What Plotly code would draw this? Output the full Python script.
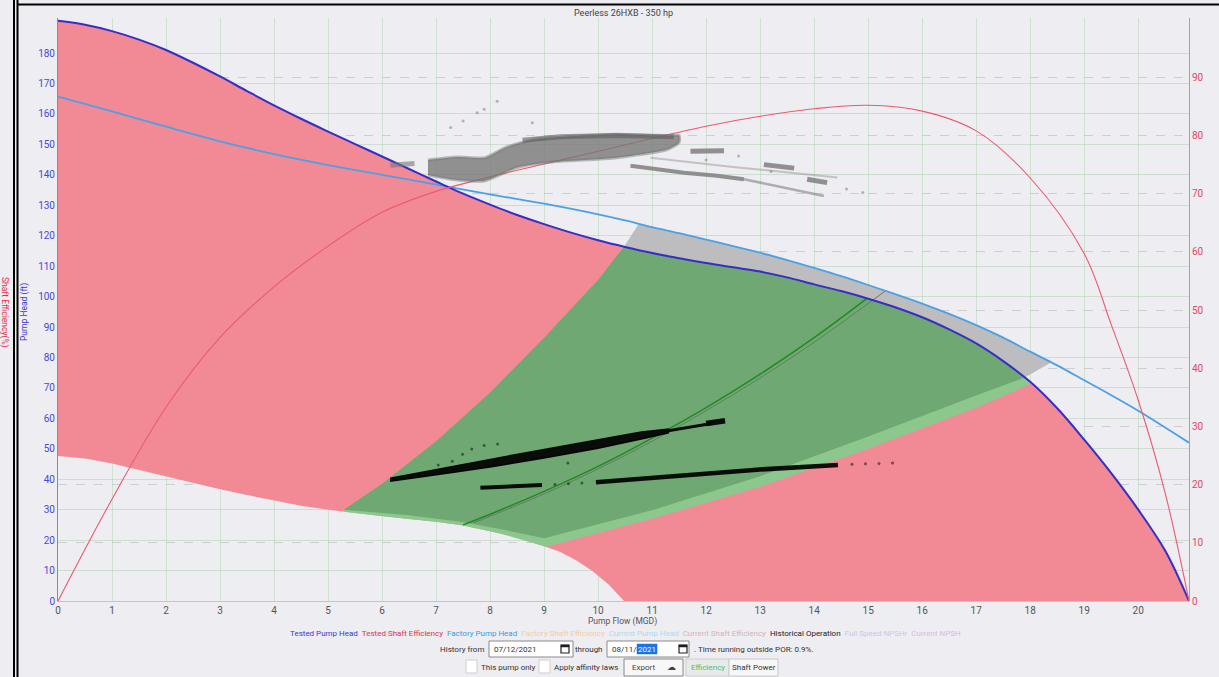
import plotly.graph_objects as go

# ---------------- data ----------------
flow_tested = [0, 0.5, 1, 1.5, 2, 2.5, 3, 3.5, 4, 4.5, 5, 5.5, 6, 6.5, 7, 7.5, 8, 8.5, 9, 9.5,
               10, 10.5, 11, 11.5, 12, 12.5, 13, 13.5, 14, 14.5, 15, 15.5, 16, 16.5, 17, 17.5,
               18, 18.5, 19, 19.5, 20, 20.5, 20.94]
head_tested = [190.6, 189.3, 187.2, 184.4, 181.0, 176.8, 172.3, 167.5, 162.8, 158.4, 154.2, 150.1,
               146.0, 141.9, 137.8, 133.8, 130.2, 126.8, 123.8, 121.0, 118.5, 116.3, 114.3, 112.6,
               111.0, 109.6, 108.2, 106.3, 104.0, 101.8, 99.3, 96.5, 93.2, 89.2, 84.6, 78.8,
               72.0, 63.3, 53.0, 42.0, 30.0, 16.5, 0.0]

flow_factory = [0, 1, 2, 3, 4, 5, 6, 7, 8, 9, 10, 10.5, 11, 11.5, 12, 12.5, 13, 13.5, 14, 14.5,
                15, 15.5, 16, 16.5, 17, 17.5, 18, 18.5, 19, 19.5, 20, 20.94]
head_factory = [165.7, 160.8, 155.8, 151.0, 146.8, 143.2, 140.0, 136.8, 133.6, 130.5, 127.0, 125.0,
                122.8, 120.8, 118.7, 116.6, 114.4, 112.0, 109.4, 106.7, 103.8, 100.8, 97.7, 94.3,
                90.6, 86.5, 81.9, 77.4, 72.5, 67.6, 62.5, 52.0]

flow_eff = [0, 1, 2, 3, 4, 5, 6, 7, 8, 9, 10, 11, 12, 13, 14, 15, 16, 17, 18, 19, 19.5, 20, 20.5, 20.94]
eff_tested = [0, 17.5, 33.3, 45.3, 54.0, 61.0, 66.8, 70.4, 72.9, 75.1, 77.3, 79.5, 81.6, 83.3,
              84.6, 85.2, 84.2, 80.8, 72.7, 59.7, 47.5, 34.5, 18.5, 0]

# lower limit of the operating envelope (white area below)
min_flow = [0, 0.5, 1, 1.5, 2, 2.5, 3, 3.5, 4, 4.5, 5, 5.5, 6, 6.5, 7, 7.5, 8, 8.5, 9.03,
            9.3, 9.6, 9.9, 10.2, 10.48, 20.94]
min_head = [47.6, 46.8, 45.2, 43.1, 40.8, 38.8, 36.7, 34.8, 33.0, 31.3, 30.0, 28.9, 27.8, 26.9,
            26.0, 24.8, 22.9, 20.9, 17.8, 16.1, 13.3, 9.8, 5.3, 0, 0]

# preferred / allowable operating region boundaries
por_left_flow = [5.29, 6.0, 7.0, 8.0, 9.0, 10.0, 10.48, 10.76]
por_left_head = [30.0, 38.5, 52.5, 68.5, 86.5, 105.5, 116.4, 124.1]
por_right_flow = [9.0, 11.0, 13.0, 15.0, 17.0, 17.9, 18.41]
por_right_head = [20.6, 29.8, 41.0, 54.0, 67.5, 73.4, 78.6]
por_bottom_flow = [5.29, 6.5, 7.45, 8.2, 9.0]
por_bottom_head = [30.0, 28.2, 26.0, 23.6, 20.6]
aor_right_flow = [9.03, 11.0, 13.0, 15.0, 17.0, 18.03]
aor_right_head = [17.8, 27.0, 37.5, 50.0, 63.5, 71.5]
aor_bottom_flow = [5.29, 6.0, 7.0, 7.45, 8.19, 9.03]
aor_bottom_head = [29.3, 27.8, 26.0, 25.0, 22.2, 17.8]

# best efficiency lines
bep_t_flow = [7.5, 8, 9, 10, 11, 12, 13, 14, 14.98]
bep_t_head = [25.0, 28.5, 36.0, 44.2, 53.5, 63.5, 74.5, 86.5, 99.4]
bep_f_flow = [7.7, 9, 10, 11, 12, 13, 14, 15.32]
bep_f_head = [25.7, 35.2, 43.4, 52.5, 62.5, 73.3, 85.0, 101.9]

# historical operation - head (black)
hist_a_flow = [6.15, 7.3, 8.0, 9.0, 10.0, 10.8, 11.3, 11.3, 10.8, 10.0, 9.0, 8.0, 7.3, 6.15]
hist_a_head = [40.3, 44.0, 46.5, 49.8, 52.9, 55.5, 56.5, 55.2, 53.2, 50.2, 47.0, 44.0, 42.2, 39.3]
hist_a_tail_flow = [11.3, 12.1]
hist_a_tail_head = [55.9, 58.3]
hist_a_end_flow = [12.0, 12.35]
hist_a_end_head = [58.3, 59.2]
hist_b1_flow = [7.82, 8.96]
hist_b1_head = [37.2, 38.1]
hist_b2_flow = [9.96, 11.0, 12.0, 13.0, 14.44]
hist_b2_head = [39.0, 40.4, 41.8, 43.2, 44.7]
hist_dots_flow = [9.2, 9.45, 9.7, 14.7, 14.95, 15.2, 15.45, 7.04, 7.3, 7.49, 7.66, 7.89, 8.14, 9.44]
hist_dots_head = [38.3, 38.5, 38.8, 44.9, 45.1, 45.2, 45.3, 44.7, 45.9, 48.2, 49.9, 51.1, 51.6, 45.3]

# historical operation - efficiency (grey)
hist_e_main_flow = [6.85, 7.4, 7.9, 8.3, 8.8, 9.1, 10.35, 11.28, 11.5,
                    11.5, 11.28, 10.35, 9.1, 8.5, 7.89, 7.27, 6.85]
hist_e_main_eff = [75.8, 76.3, 76.2, 78.0, 79.3, 79.6, 80.2, 79.9, 80.0,
                   78.8, 77.6, 76.2, 75.4, 74.5, 72.2, 72.5, 73.2]
hist_e_top_flow = [8.6, 9.3, 10.3, 11.4]
hist_e_top_eff = [79.2, 79.8, 80.0, 79.8]
hist_e_left_flow = [6.15, 6.6]
hist_e_left_eff = [74.9, 75.2]
hist_e_s1_flow = [10.6, 11.59, 12.2, 12.7]
hist_e_s1_eff = [74.8, 73.6, 73.1, 72.5]
hist_e_s1b_flow = [12.7, 13.4, 14.18]
hist_e_s1b_eff = [72.5, 71.1, 69.6]
hist_e_s2_flow = [11.71, 12.33]
hist_e_s2_eff = [77.3, 77.4]
hist_e_s3_flow = [13.07, 13.63]
hist_e_s3_eff = [75.0, 74.4]
hist_e_s4_flow = [13.87, 14.24]
hist_e_s4_eff = [72.5, 71.9]
hist_e_faint_flow = [10.97, 12.5, 14.43]
hist_e_faint_eff = [76.2, 74.6, 72.8]
hist_e_dots_flow = [7.27, 7.5, 7.76, 7.89, 8.13, 8.78, 14.6, 14.9, 12.0, 12.6, 13.2]
hist_e_dots_eff = [81.4, 82.5, 83.9, 84.5, 85.9, 82.2, 70.8, 70.2, 75.8, 76.5, 73.8]

legend_items = ["Tested Pump Head", "Tested Shaft Efficiency", "Factory Pump Head",
                "Factory Shaft Efficiency", "Current Pump Head", "Current Shaft Efficiency",
                "Historical Operation", "Full Speed NPSHr", "Current NPSH"]
legend_colors = ["#3A3AD0", "#E0304A", "#3C9BE0", "#F3CDA0", "#A8DCF2", "#D2B4BC",
                 "#222222", "#C8C8EE", "#E2B8DE"]

# ---------------- styling ----------------
W, H = 1219, 677
ML, MR, MT, MB = 58, 30, 18, 76
PW, PH = W - ML - MR, H - MT - MB
FONT = "Roboto, sans-serif"
BG = "#EDEDF2"
PINK = "rgb(242,138,150)"
GREEN_D = "rgb(112,168,115)"
GREEN_L = "rgb(140,200,142)"
GREY_F = "rgb(189,189,191)"


def pxx(px):
    return (px - ML) / PW


def pxy(py):
    return (H - MB - py) / PH


def seg(xs, ys, lo, hi):
    out_x, out_y = [], []
    for a, b in zip(xs, ys):
        if lo < a < hi:
            out_x.append(a)
            out_y.append(b)
    return out_x, out_y


fig = go.Figure()

# pink envelope
fig.add_trace(go.Scatter(x=min_flow, y=min_head, mode="lines", line=dict(width=0),
                         hoverinfo="skip"))
fig.add_trace(go.Scatter(x=flow_tested, y=head_tested, mode="lines", fill="tonexty", fillcolor=PINK,
                         line=dict(width=0, shape="spline"), hoverinfo="skip"))

# grey region between factory and tested curves
t_mid_x, t_mid_y = seg(flow_tested, head_tested, por_left_flow[-2], por_right_flow[-2])
f_mid_x, f_mid_y = seg(flow_factory, head_factory, por_left_flow[-1], por_right_flow[-1])
gx = por_left_flow[-2:] + f_mid_x + [por_right_flow[-1], por_right_flow[-2]] + t_mid_x[::-1]
gy = por_left_head[-2:] + f_mid_y + [por_right_head[-1], por_right_head[-2]] + t_mid_y[::-1]
fig.add_trace(go.Scatter(x=gx, y=gy, mode="lines", fill="toself", fillcolor=GREY_F,
                         line=dict(width=0), hoverinfo="skip"))

# light green (allowable)
ta_x, ta_y = seg(flow_tested, head_tested, por_left_flow[-2], aor_right_flow[-1])
lx = aor_bottom_flow + aor_right_flow[1:] + ta_x[::-1] + por_left_flow[:-1][::-1]
ly = aor_bottom_head + aor_right_head[1:] + ta_y[::-1] + por_left_head[:-1][::-1]
fig.add_trace(go.Scatter(x=lx, y=ly, mode="lines", fill="toself", fillcolor=GREEN_L,
                         line=dict(width=0), hoverinfo="skip"))

# dark green (preferred)
dx = por_bottom_flow + por_right_flow[1:-1] + t_mid_x[::-1] + por_left_flow[:-1][::-1]
dy = por_bottom_head + por_right_head[1:-1] + t_mid_y[::-1] + por_left_head[:-1][::-1]
fig.add_trace(go.Scatter(x=dx, y=dy, mode="lines", fill="toself", fillcolor=GREEN_D,
                         line=dict(width=0), hoverinfo="skip"))

# BEP lines
fig.add_trace(go.Scatter(x=bep_f_flow, y=bep_f_head, mode="lines",
                         line=dict(color="rgb(105,120,105)", width=1, shape="spline"), hoverinfo="skip"))
fig.add_trace(go.Scatter(x=bep_t_flow, y=bep_t_head, mode="lines",
                         line=dict(color="rgb(30,140,30)", width=1.5, shape="spline"), hoverinfo="skip"))

# historical head (black)
black = "rgba(0,0,0,0.92)"
fig.add_trace(go.Scatter(x=hist_a_flow, y=hist_a_head, mode="lines", fill="toself", fillcolor=black,
                         line=dict(color=black, width=1.5), hoverinfo="skip"))
for fx, hy, w in [(hist_a_tail_flow, hist_a_tail_head, 3), (hist_a_end_flow, hist_a_end_head, 5.5),
                  (hist_b1_flow, hist_b1_head, 4), (hist_b2_flow, hist_b2_head, 4.5)]:
    fig.add_trace(go.Scatter(x=fx, y=hy, mode="lines", line=dict(color=black, width=w), hoverinfo="skip"))
fig.add_trace(go.Scatter(x=hist_dots_flow, y=hist_dots_head, mode="markers",
                         marker=dict(color="rgba(20,20,20,0.55)", size=3), hoverinfo="skip"))

# pump head curves
fig.add_trace(go.Scatter(x=flow_factory, y=head_factory, mode="lines",
                         line=dict(color="rgb(75,160,230)", width=1.8, shape="spline"), hoverinfo="skip"))
fig.add_trace(go.Scatter(x=flow_tested, y=head_tested, mode="lines",
                         line=dict(color="rgb(55,45,200)", width=2, shape="spline"), hoverinfo="skip"))

# efficiency curve (right axis)
fig.add_trace(go.Scatter(x=flow_eff, y=eff_tested, mode="lines", yaxis="y2",
                         line=dict(color="rgb(236,90,110)", width=1.1, shape="spline"), hoverinfo="skip"))

# historical efficiency (grey)
gcol = "rgba(118,118,118,0.78)"
fig.add_trace(go.Scatter(x=hist_e_main_flow, y=hist_e_main_eff, mode="lines", yaxis="y2", fill="toself",
                         fillcolor=gcol, line=dict(color="rgba(118,118,118,0.45)", width=3,
                                                   shape="spline", smoothing=0.6),
                         hoverinfo="skip"))
fig.add_trace(go.Scatter(x=hist_e_top_flow, y=hist_e_top_eff, mode="lines", yaxis="y2",
                         line=dict(color="rgba(95,95,95,0.6)", width=5), hoverinfo="skip"))
for fx, ey, w, c in [(hist_e_left_flow, hist_e_left_eff, 5, "rgba(120,120,120,0.6)"),
                     (hist_e_s1_flow, hist_e_s1_eff, 4, gcol),
                     (hist_e_s1b_flow, hist_e_s1b_eff, 2.5, "rgba(120,120,120,0.55)"),
                     (hist_e_s2_flow, hist_e_s2_eff, 5, gcol), (hist_e_s3_flow, hist_e_s3_eff, 5, gcol),
                     (hist_e_s4_flow, hist_e_s4_eff, 5, gcol),
                     (hist_e_faint_flow, hist_e_faint_eff, 2, "rgba(130,130,130,0.4)")]:
    fig.add_trace(go.Scatter(x=fx, y=ey, mode="lines", yaxis="y2", line=dict(color=c, width=w),
                             hoverinfo="skip"))
fig.add_trace(go.Scatter(x=hist_e_dots_flow, y=hist_e_dots_eff, mode="markers", yaxis="y2",
                         marker=dict(color="rgba(120,120,120,0.5)", size=3), hoverinfo="skip"))

fig.update_layout(
    width=W, height=H, margin=dict(l=ML, r=MR, t=MT, b=MB, pad=0),
    paper_bgcolor=BG, plot_bgcolor=BG, showlegend=False,
    font=dict(family=FONT, size=10, color="#444"),
    xaxis=dict(range=[0, 20.94], tickvals=list(range(0, 21)), tickfont=dict(size=10, color="#555"),
               showgrid=True, gridcolor="rgba(150,205,150,0.35)", gridwidth=1, zeroline=False,
               showline=True, linecolor="#C4C4C8", linewidth=1, ticks=""),
    yaxis=dict(range=[0, 191.5], tickvals=list(range(0, 181, 10)), tickfont=dict(size=10, color="#4848D8"),
               showgrid=True, gridcolor="rgba(160,195,160,0.4)", zeroline=False,
               showline=True, linecolor="#8080E6", linewidth=1, ticks=""),
    yaxis2=dict(range=[0, 100.2], tickvals=list(range(0, 91, 10)), overlaying="y", side="right",
                tickfont=dict(size=10, color="#E24860"), showgrid=True,
                gridcolor="rgba(175,175,175,0.5)", griddash="dash", zeroline=False,
                showline=True, linecolor="#EC8090", linewidth=1, ticks=""),
)

ann = []


def text(px, py, s, color="#333", size=8.5, xanchor="left", angle=0):
    ann.append(dict(x=pxx(px), y=pxy(py), xref="paper", yref="paper", text=s, showarrow=False,
                    xanchor=xanchor, yanchor="middle", textangle=angle,
                    font=dict(family=FONT, size=size, color=color)))


text(623, 13, "Peerless 26HXB - 350 hp", "#444", 9, "center")
text(622, 621, "Pump Flow (MGD)", "#555", 8.5, "center")
text(5, 312, "Shaft Efficiency(%)", "#E0304A", 8.5, "center", 90)
text(24, 312, "Pump Head (ft)", "#3A3AD0", 8.5, "center", -90)

legend_html = "&nbsp;&nbsp;".join(
    '<span style="color:%s">%s</span>' % (c, lbl) for lbl, c in zip(legend_items, legend_colors))
text(625, 633, legend_html, "#333", 8, "center")

shapes = []


def rect(x0, y0, x1, y1, fill, line="#999", lw=1):
    shapes.append(dict(type="rect", xref="paper", yref="paper", x0=pxx(x0), x1=pxx(x1),
                       y0=pxy(y1), y1=pxy(y0), fillcolor=fill, line=dict(color=line, width=lw)))


def hline(x0, x1, y, color, w):
    shapes.append(dict(type="line", xref="paper", yref="paper", x0=pxx(x0), x1=pxx(x1),
                       y0=pxy(y), y1=pxy(y), line=dict(color=color, width=w)))


def vline(x, y0, y1, color, w):
    shapes.append(dict(type="line", xref="paper", yref="paper", x0=pxx(x), x1=pxx(x),
                       y0=pxy(y0), y1=pxy(y1), line=dict(color=color, width=w)))


# frame
vline(14, 0, H, "#000", 2)
vline(17.5, 0, H, "#000", 2)
hline(17, W, 4.5, "#000", 2)

# history row
text(486, 649, "History from", "#333", 8, "right")
rect(489, 641, 573, 657, "white", "#8a8a8a")
text(492, 649, "07/12/2021", "#333", 8)
rect(561, 645, 569, 653, "white", "#222", 1.2)
rect(561, 645, 569, 647, "#222", "#222", 0.5)
text(605, 649, "through", "#333", 8, "right")
rect(607, 641, 689, 657, "white", "#8a8a8a")
text(610, 649, "08/11/", "#333", 8)
rect(637, 644, 657, 654, "#1A73E8", "#1A73E8", 0.5)
text(647, 649, "2021", "white", 8, "center")
rect(679, 645, 687, 653, "white", "#222", 1.2)
rect(679, 645, 687, 647, "#222", "#222", 0.5)
text(692, 649, ". Time running outside POR: 0.9%.", "#333", 8)

# controls row
rect(466, 660, 477, 673, "white", "#cfcfcf")
text(479, 667, "This pump only", "#333", 8)
rect(539, 660, 550, 673, "white", "#cfcfcf")
text(552, 667, "Apply affinity laws", "#333", 8)
rect(624, 659, 683, 676, "#F7F7F7", "#8a8a8a")
text(630, 667, "Export", "#444", 8)
text(671, 667, "☁", "#444", 9, "center")
rect(686, 659, 729, 676, "#E6EAE8", "#D0D0D0")
text(707.5, 667, "Efficiency", "#5CB85C", 8, "center")
rect(729, 659, 778, 676, "#F7F7F7", "#C8C8C8")
text(753.5, 667, "Shaft Power", "#333", 8, "center")

fig.update_layout(annotations=ann, shapes=shapes)
fig.write_html("out.html")
